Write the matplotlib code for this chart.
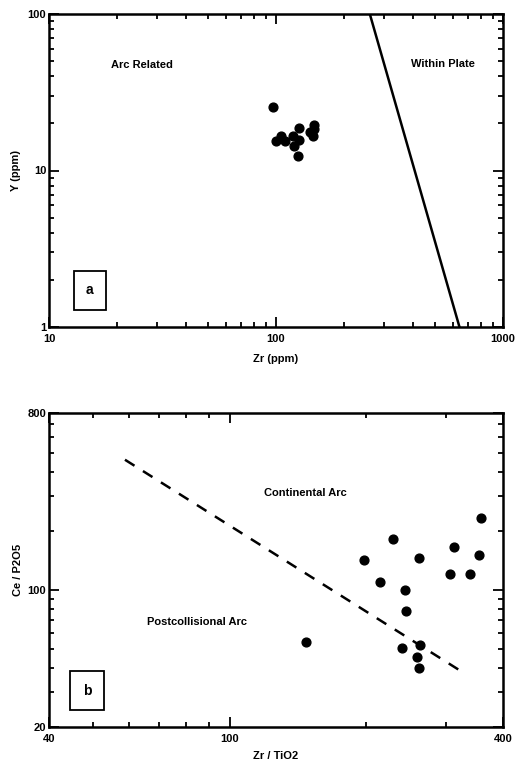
import numpy as np
import matplotlib
matplotlib.use('Agg')
import matplotlib.pyplot as plt
from matplotlib.ticker import LogLocator, NullFormatter, FixedLocator, FixedFormatter

plt.rcParams['font.family'] = ['Liberation Sans', 'DejaVu Sans']
plt.rcParams['font.weight'] = 'bold'

# (a) Zr vs Y
zr_a = [96.6, 100, 105, 110, 119, 120, 126, 126, 125, 141, 146, 147, 147]
y_a = [25.6, 15.4, 16.6, 15.4, 16.6, 14.3, 18.6, 15.7, 12.3, 17.7, 16.5, 19.6, 18.4]
line_a_x = [259, 643]
line_a_y = [100, 1]

# (b) Zr/TiO2 vs Ce/P2O5
zrti_b = [147, 198, 214, 229, 243, 245, 240, 258, 261, 263, 261, 306, 312, 339, 354, 357]
cep_b = [54.4, 142, 110, 182, 100, 78, 50.7, 45.6, 39.8, 52.3, 145, 120, 165, 120, 151, 233]
line_b_x = [58.8, 327]
line_b_y = [462, 37.9]

fig = plt.figure(figsize=(5.21, 7.63), dpi=100)
ax1 = fig.add_axes([49 / 521, 1 - 327 / 763, 454 / 521, 313 / 763])
ax2 = fig.add_axes([49 / 521, 1 - 727 / 763, 454 / 521, 314 / 763])


def style(ax, xt, yt):
    ax.set_xscale('log')
    ax.set_yscale('log')
    for s in ax.spines.values():
        s.set_linewidth(1.8)
    ax.tick_params(which='both', direction='in', top=True, right=True,
                   labelsize=8, width=1.3)
    ax.tick_params(axis='x', pad=5)
    ax.tick_params(axis='y', pad=2)
    ax.tick_params(which='major', length=7)
    ax.tick_params(which='minor', length=3.5)
    ax.xaxis.set_major_locator(FixedLocator(xt))
    ax.xaxis.set_major_formatter(FixedFormatter([str(v) for v in xt]))
    ax.yaxis.set_major_locator(FixedLocator(yt))
    ax.yaxis.set_major_formatter(FixedFormatter([str(v) for v in yt]))
    ax.xaxis.set_minor_locator(LogLocator(base=10, subs=np.arange(2, 10)))
    ax.yaxis.set_minor_locator(LogLocator(base=10, subs=np.arange(2, 10)))
    ax.xaxis.set_minor_formatter(NullFormatter())
    ax.yaxis.set_minor_formatter(NullFormatter())
    for lab in ax.get_xticklabels() + ax.get_yticklabels():
        lab.set_fontweight('bold')


# panel a
ax1.plot(line_a_x, line_a_y, color='black', lw=1.8)
ax1.scatter(zr_a, y_a, s=40, color='black', zorder=3)
ax1.set_xlim(10, 1000)
ax1.set_ylim(1, 100)
style(ax1, [10, 100, 1000], [1, 10, 100])
ax1.set_xlabel('Zr (ppm)', fontsize=8, fontweight='bold', labelpad=7)
ax1.set_ylabel('Y (ppm)', fontsize=8, fontweight='bold', labelpad=5)
ax1.text(0.205, 0.837, 'Arc Related', transform=ax1.transAxes, fontsize=8,
         fontweight='bold', ha='center', va='center')
ax1.text(0.868, 0.84, 'Within Plate', transform=ax1.transAxes, fontsize=8,
         fontweight='bold', ha='center', va='center')
ax1.text(0.09, 0.118, 'a', transform=ax1.transAxes, fontsize=10,
         fontweight='bold', ha='center', va='center',
         bbox=dict(boxstyle='square,pad=0.9', fc='white', ec='black', lw=1.3))

# panel b
ax2.plot(line_b_x, line_b_y, color='black', lw=1.8, ls=(0, (4.5, 4)))
ax2.scatter(zrti_b, cep_b, s=40, color='black', zorder=3)
ax2.set_xlim(40, 400)
ax2.set_ylim(20, 800)
style(ax2, [40, 100, 400], [20, 100, 800])
ax2.set_xlabel('Zr / TiO2', fontsize=8, fontweight='bold', labelpad=5)
ax2.set_ylabel('Ce / P2O5', fontsize=8, fontweight='bold', labelpad=3)
ax2.text(0.564, 0.745, 'Continental Arc', transform=ax2.transAxes, fontsize=8,
         fontweight='bold', ha='center', va='center')
ax2.text(0.326, 0.333, 'Postcollisional Arc', transform=ax2.transAxes, fontsize=8,
         fontweight='bold', ha='center', va='center')
ax2.text(0.084, 0.115, 'b', transform=ax2.transAxes, fontsize=10,
         fontweight='bold', ha='center', va='center',
         bbox=dict(boxstyle='square,pad=0.9', fc='white', ec='black', lw=1.3))

fig.savefig('out.png', dpi=100)
